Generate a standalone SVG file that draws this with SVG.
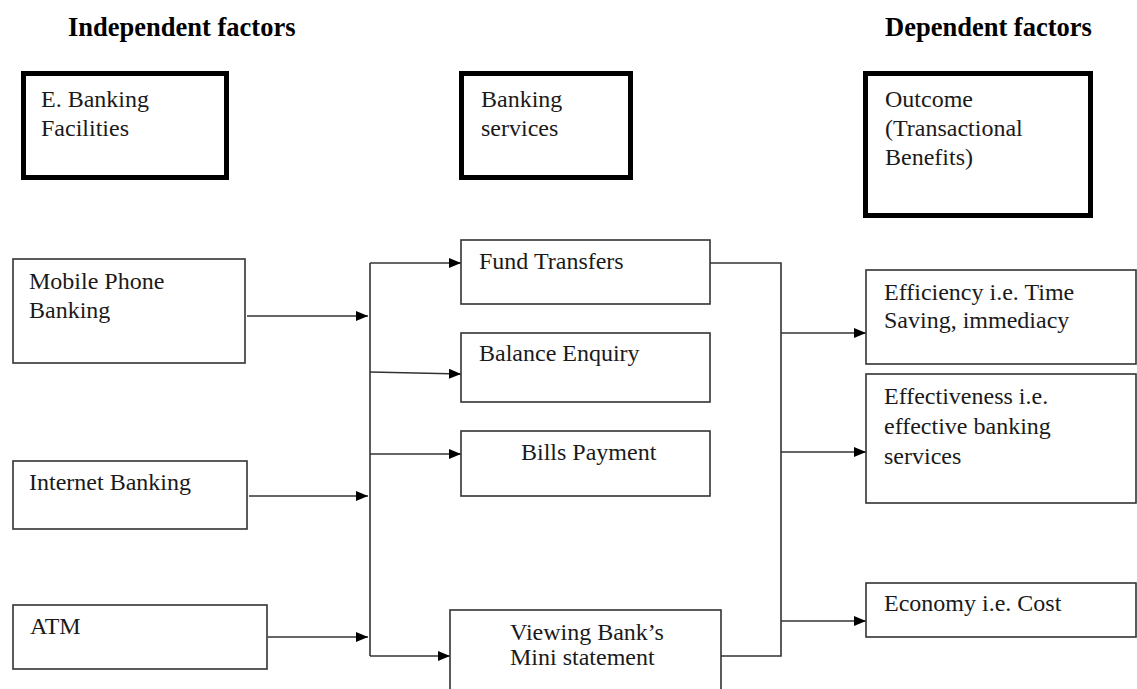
<svg xmlns="http://www.w3.org/2000/svg" width="1137" height="689" viewBox="0 0 1137 689">
<style>
.hdr{font-family:"Liberation Serif","Times New Roman",serif;font-weight:bold;font-size:26.5px;fill:#000}
.t{font-family:"Liberation Serif","Times New Roman",serif;font-size:24px;fill:#1a1a1a}
.thick{fill:#fff;stroke:#000;stroke-width:5}
.box{fill:#fff;stroke:#333;stroke-width:1.6}
.ln{fill:none;stroke:#333;stroke-width:1.6}
</style>
<defs>
<marker id="ah" markerUnits="userSpaceOnUse" markerWidth="13" markerHeight="11" refX="12" refY="5" orient="auto">
<path d="M0,0 L12,5 L0,10 z" fill="#000"/>
</marker>
</defs>
<rect width="1137" height="689" fill="#fff"/>
<text class="hdr" x="68" y="36">Independent factors</text>
<text class="hdr" x="885" y="36">Dependent factors</text>

<g id="connectors">
<path class="ln" d="M247,316 H368" marker-end="url(#ah)"/>
<path class="ln" d="M249,496 H368" marker-end="url(#ah)"/>
<path class="ln" d="M268,637 H368" marker-end="url(#ah)"/>
<path class="ln" d="M370,263 V656"/>
<path class="ln" d="M370,263 H461" marker-end="url(#ah)"/>
<path class="ln" d="M370,372 L461,374" marker-end="url(#ah)"/>
<path class="ln" d="M370,454 H461" marker-end="url(#ah)"/>
<path class="ln" d="M370,656 H450" marker-end="url(#ah)"/>
<path class="ln" d="M710,263 H781 V656 H721"/>
<path class="ln" d="M781,333 H866" marker-end="url(#ah)"/>
<path class="ln" d="M781,452 H866" marker-end="url(#ah)"/>
<path class="ln" d="M781,621 H866" marker-end="url(#ah)"/>
</g>

<g id="ebanking"><rect class="thick" x="23.5" y="73.5" width="203" height="104"/>
<text class="t" x="41" y="107">E. Banking</text><text class="t" x="41" y="136">Facilities</text></g>
<g id="bankingservices"><rect class="thick" x="461.5" y="73.5" width="169" height="104"/>
<text class="t" x="481" y="107">Banking</text><text class="t" x="481" y="136">services</text></g>
<g id="outcome"><rect class="thick" x="865.5" y="73.5" width="225" height="142"/>
<text class="t" x="885" y="107">Outcome</text><text class="t" x="885" y="136">(Transactional</text><text class="t" x="885" y="165">Benefits)</text></g>

<g id="mobile"><rect class="box" x="13" y="259" width="232" height="104"/>
<text class="t" x="29" y="289">Mobile Phone</text><text class="t" x="29" y="318">Banking</text></g>
<g id="internet"><rect class="box" x="13" y="461" width="234" height="68"/>
<text class="t" x="29" y="490">Internet Banking</text></g>
<g id="atm"><rect class="box" x="13" y="605" width="254" height="64"/>
<text class="t" x="30" y="634">ATM</text></g>

<g id="fund"><rect class="box" x="461" y="240" width="249" height="64"/>
<text class="t" x="479" y="269">Fund Transfers</text></g>
<g id="balance"><rect class="box" x="461" y="333" width="249" height="69"/>
<text class="t" x="479" y="361">Balance Enquiry</text></g>
<g id="bills"><rect class="box" x="461" y="431" width="249" height="65"/>
<text class="t" x="521" y="460">Bills Payment</text></g>
<g id="mini"><rect class="box" x="450" y="610" width="271" height="90"/>
<text class="t" x="510" y="640">Viewing Bank’s</text><text class="t" x="510" y="665">Mini statement</text></g>

<g id="efficiency"><rect class="box" x="866" y="270" width="270" height="94"/>
<text class="t" x="884" y="300">Efficiency i.e. Time</text><text class="t" x="884" y="328">Saving, immediacy</text></g>
<g id="effectiveness"><rect class="box" x="866" y="374" width="270" height="129"/>
<text class="t" x="884" y="404">Effectiveness i.e.</text><text class="t" x="884" y="434">effective banking</text><text class="t" x="884" y="464">services</text></g>
<g id="economy"><rect class="box" x="866" y="583" width="270" height="54"/>
<text class="t" x="884" y="611">Economy i.e. Cost</text></g>
</svg>
